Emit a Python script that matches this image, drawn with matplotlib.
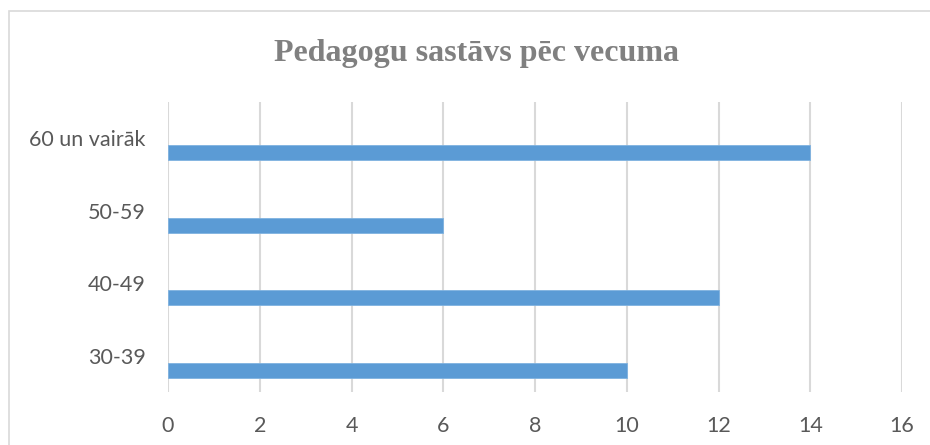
import matplotlib
matplotlib.use("Agg")
import matplotlib.pyplot as plt
from matplotlib.patches import Rectangle
import numpy as np

categories = ["30-39", "40-49", "50-59", "60 un vairāk"]
values = [10, 12, 6, 14]
xticks = [0, 2, 4, 6, 8, 10, 12, 14, 16]
title = "Pedagogu sastāvs pēc vecuma"

fig = plt.figure(figsize=(9.3, 4.45), dpi=100)
fig.patch.set_facecolor("white")
# chart border
fig.add_artist(Rectangle((9/930, -0.05), 1.0, 1 - 11/445 + 0.05, transform=fig.transFigure,
                         fill=False, edgecolor="#d9d9d9", linewidth=1.2))

ax = fig.add_axes([168/930, 1 - 392/445, (902 - 168)/930, (392 - 102)/445])
pos = np.arange(len(categories))
ax.barh(pos + 0.3, values, height=0.207, color="#5b9bd5", edgecolor="#7fb2e0", linewidth=0.6, zorder=3)
ax.set_ylim(0, len(categories))
ax.set_xlim(0, 16)
ax.set_xticks(xticks)
ax.set_xticklabels([str(t) for t in xticks])
ax.set_yticks(pos + 0.5)
ax.set_yticklabels(categories)
ax.grid(axis="x", color="#d9d9d9", linewidth=1.5, zorder=0)
ax.set_axisbelow(True)
for s in ax.spines.values():
    s.set_visible(False)
ax.tick_params(axis="both", length=0, labelcolor="#595959", labelsize=15.5)
ax.tick_params(axis="y", pad=16)
ax.tick_params(axis="x", pad=17)
for lbl in ax.get_xticklabels() + ax.get_yticklabels():
    lbl.set_fontfamily("Lato")

fig.text(476/930, 1 - 53/445, title, ha="center", va="center",
         fontfamily="Liberation Serif", fontweight="bold", fontsize=23, color="#808080")

fig.savefig("out.png", dpi=100)
